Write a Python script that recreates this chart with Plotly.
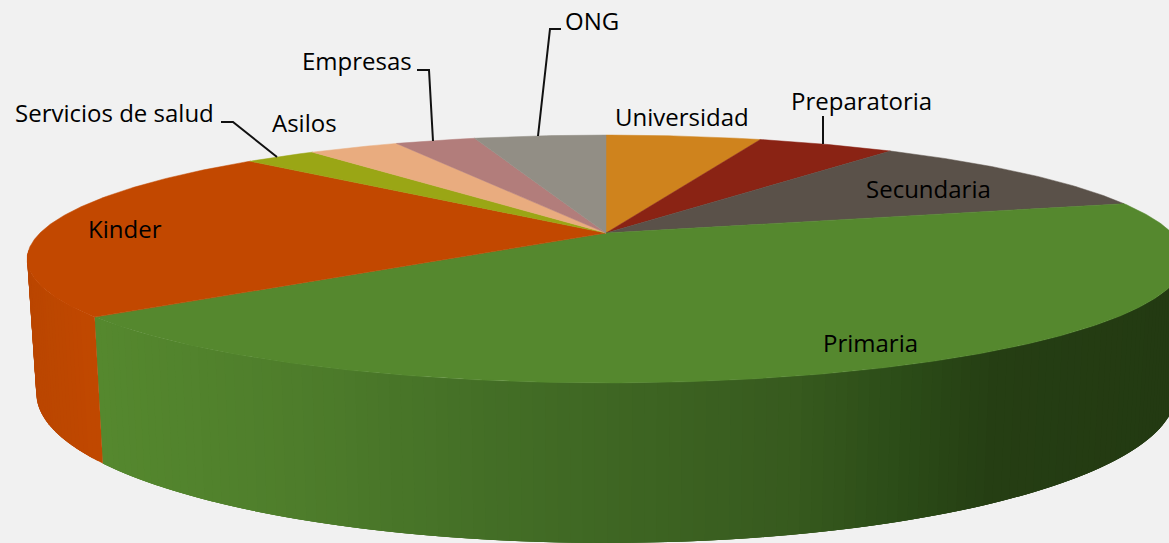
import numpy as np
import plotly.graph_objects as go

categories = ["Universidad", "Preparatoria", "Secundaria", "Primaria", "Kinder",
              "Servicios de salud", "Asilos", "Empresas", "ONG"]
shares = [5.3, 4.7, 10.8, 43.6, 22.8, 2.45, 3.1, 2.75, 4.5]

colors = ["#cf831d", "#8a2314", "#5a5149", "#55882e", "#c24800",
          "#9aa615", "#e9ac7f", "#b27d7b", "#928e85"]

# projection of the tilted disc onto the page
CX, K = 606, 0.2097
TOP_F, TOP_Y0, TOP_G = 566, 233, 118.5
BOT_F, BOT_Y0, BOT_G = 557, 362, 143
WALL_FROM, WALL_TO = 97, 262

# wall shading anchors: screen x -> rgb
SHADE = {
    "Primaria": ([100, 300, 500, 650, 800, 900, 1000, 1169],
                 [(85, 136, 46), (78, 125, 43), (67, 110, 38), (61, 100, 34),
                  (55, 90, 30), (44, 77, 24), (37, 62, 19), (35, 58, 18)]),
    "Kinder": ([27, 100], [(186, 70, 0), (193, 72, 0)]),
}

label_pos = {
    "Servicios de salud": (114.5, 112), "Asilos": (304.5, 122), "Empresas": (357, 60),
    "ONG": (591.5, 20), "Universidad": (682, 116), "Preparatoria": (861.5, 100),
    "Secundaria": (928, 188), "Primaria": (870, 342), "Kinder": (125, 228),
}
leaders = [
    ([221, 233, 277], [122, 122, 157]),
    ([417, 429, 433], [70, 70, 141]),
    ([561, 550, 538], [29, 29, 136]),
    ([823, 823], [116, 144]),
]


def project(theta_deg, f, y0, g):
    t = np.radians(theta_deg)
    X, Y = np.sin(t), -np.cos(t)
    s = 1 - K * Y
    return CX + f * X / s, y0 + g * Y / s


edges = np.concatenate([[0], np.cumsum(shares)]) * 3.6
fig = go.Figure()

# side wall: overlapping strips, painted in angle order so that no seams show
for name, a, b in zip(categories, edges[:-1], edges[1:]):
    if name not in SHADE:
        continue
    lo, hi = max(a, WALL_FROM), min(b, WALL_TO)
    xs, cs = SHADE[name]
    steps = np.linspace(lo, hi, int((hi - lo) / 1.0) + 2)
    for t0 in steps[:-1]:
        arc = np.linspace(t0, min(t0 + 3.0, hi), 4)
        xt, yt = project(arc, TOP_F, TOP_Y0, TOP_G)
        xb, yb = project(arc[::-1], BOT_F, BOT_Y0, BOT_G)
        m = xt[0]
        rgb = [int(round(np.interp(m, xs, [c[i] for c in cs]))) for i in range(3)]
        col = f"rgb({rgb[0]},{rgb[1]},{rgb[2]})"
        fig.add_trace(go.Scatter(x=np.r_[xt, xb, xt[0]], y=np.r_[yt, yb, yt[0]],
                                 mode="lines", fill="toself", fillcolor=col,
                                 line=dict(color=col, width=0),
                                 hoverinfo="skip", showlegend=False))

# top face
for name, col, a, b in zip(categories, colors, edges[:-1], edges[1:]):
    arc = np.linspace(a, b, max(int(b - a), 2) * 2)
    xt, yt = project(arc, TOP_F, TOP_Y0, TOP_G)
    fig.add_trace(go.Scatter(x=np.r_[CX, xt, CX], y=np.r_[TOP_Y0, yt, TOP_Y0],
                             mode="lines", fill="toself", fillcolor=col,
                             line=dict(color=col, width=0.5), name=name,
                             hoverinfo="name", showlegend=False))

# leader lines
for lx, ly in leaders:
    fig.add_trace(go.Scatter(x=lx, y=ly, mode="lines",
                             line=dict(color="#111111", width=2),
                             hoverinfo="skip", showlegend=False))

for name, (px, py) in label_pos.items():
    fig.add_annotation(x=px, y=py, xref="x", yref="y", text=name, showarrow=False,
                       xanchor="center", yanchor="middle",
                       font=dict(family="Open Sans", size=24, color="#000000"))

fig.update_layout(
    width=1169, height=543, margin=dict(l=0, r=0, t=0, b=0),
    paper_bgcolor="#f1f1f1", plot_bgcolor="#f1f1f1",
    xaxis=dict(range=[0, 1169], visible=False, fixedrange=True),
    yaxis=dict(range=[543, 0], visible=False, fixedrange=True),
)
fig.write_html("out.html", config={"displayModeBar": False},
               post_script="document.body.style.margin='0';document.body.style.background='#f1f1f1';document.body.style.overflow='hidden';")
